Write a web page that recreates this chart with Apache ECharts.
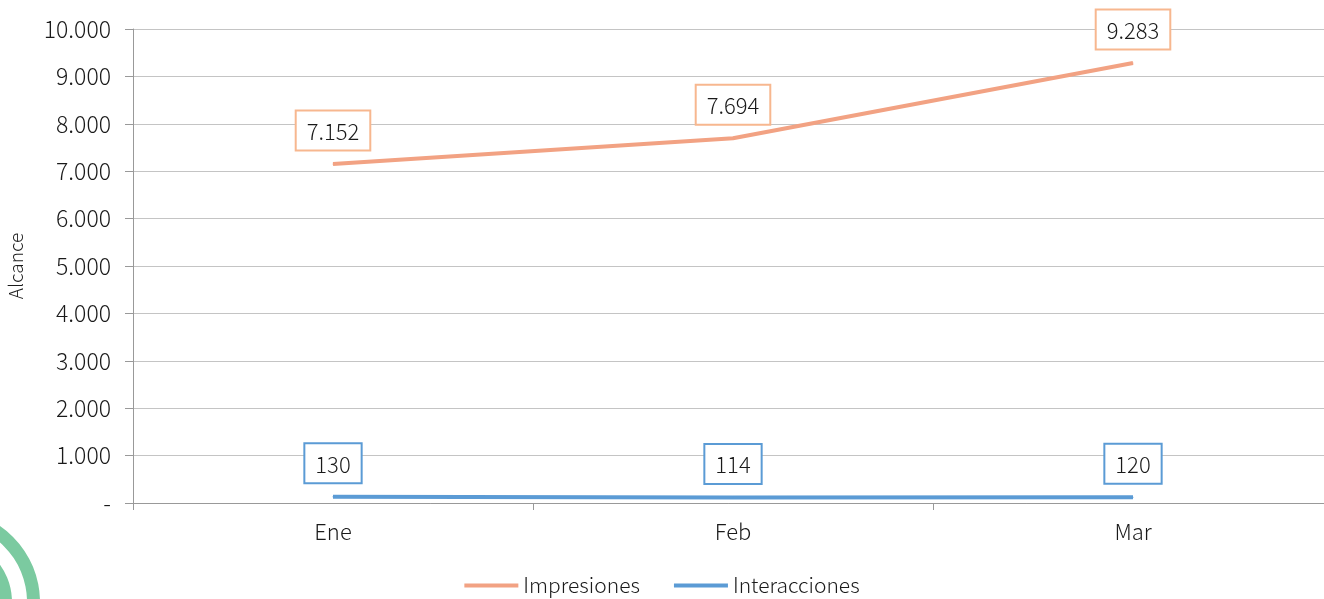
<!DOCTYPE html>
<html>
<head>
<meta charset="utf-8">
<script src="https://cdn.jsdelivr.net/npm/echarts@6/dist/echarts.min.js"></script>
<style>
  html, body { margin: 0; padding: 0; background: #fff; }
  #main { width: 1324px; height: 599px; }
</style>
</head>
<body>
<div id="main"></div>
<script>
let meses = ["Ene", "Feb", "Mar"];
let impresiones = [7152, 7694, 9283];
let interacciones = [130, 114, 120];

let fuente = "'Noto Sans CJK KR', 'Noto Sans', sans-serif";

// 10000 -> "10.000", 0 -> "-"
function miles(v) {
  if (v === 0) return "-";
  return String(v).replace(/\B(?=(\d{3})+(?!\d))/g, ".");
}

function etiqueta(color) {
  return {
    show: true,
    position: "top",
    distance: 14,
    formatter: function (p) { return miles(p.value); },
    color: "#1a1a1a",
    fontSize: 22,
    fontWeight: 300,
    fontFamily: fuente,
    backgroundColor: "#fff",
    borderColor: color,
    borderWidth: 2,
    padding: [9, 10, 7, 10]
  };
}

let myChart = echarts.init(document.getElementById("main"));
let option = {
  animation: false,
  textStyle: { fontFamily: fuente },
  graphic: [
    {
      type: "ring",
      shape: { cx: -52, cy: 602, r: 92, r0: 79 },
      style: { fill: "#7bcaa0" },
      z: -1
    },
    {
      type: "ring",
      shape: { cx: -52, cy: 602, r: 64, r0: 51 },
      style: { fill: "#7bcaa0" },
      z: -1
    }
  ],
  grid: {
    left: 133,
    top: 29,
    width: 1200,
    bottom: 96,
    outerBoundsMode: "none"
  },
  legend: {
    bottom: -2,
    left: "center",
    itemWidth: 54,
    itemHeight: 4,
    itemGap: 34,
    icon: "rect",
    textStyle: { fontSize: 21, fontWeight: 300, color: "#1a1a1a", fontFamily: fuente },
    data: ["Impresiones", "Interacciones"]
  },
  xAxis: {
    type: "category",
    data: meses,
    boundaryGap: true,
    axisLine: { lineStyle: { color: "#999", width: 1 } },
    axisTick: { show: true, length: 7, lineStyle: { color: "#999" } },
    axisLabel: { fontSize: 22, fontWeight: 300, color: "#1a1a1a", margin: 18, fontFamily: fuente },
    splitLine: { show: false }
  },
  yAxis: {
    type: "value",
    min: 0,
    max: 10000,
    interval: 1000,
    name: "Alcance",
    nameLocation: "middle",
    nameGap: 108,
    nameTextStyle: { fontSize: 19, fontWeight: 300, color: "#1a1a1a", fontFamily: fuente },
    axisLine: { show: true, lineStyle: { color: "#999", width: 1 } },
    axisTick: { show: true, length: 8, lineStyle: { color: "#999" } },
    axisLabel: {
      fontSize: 23,
      fontWeight: 300,
      color: "#1a1a1a",
      margin: 22,
      fontFamily: fuente,
      formatter: miles
    },
    splitLine: { show: true, lineStyle: { color: "#c4c4c4", width: 1 } }
  },
  series: [
    {
      name: "Impresiones",
      type: "line",
      data: impresiones,
      symbol: "circle",
      symbolSize: 1,
      itemStyle: { color: "#f2a283" },
      lineStyle: { width: 4, color: "#f2a283" },
      label: etiqueta("#f7b78f")
    },
    {
      name: "Interacciones",
      type: "line",
      data: interacciones,
      symbol: "circle",
      symbolSize: 1,
      itemStyle: { color: "#5b9bd5" },
      lineStyle: { width: 4, color: "#5b9bd5" },
      label: etiqueta("#5b9bd5")
    }
  ]
};
myChart.setOption(option);
</script>
</body>
</html>
